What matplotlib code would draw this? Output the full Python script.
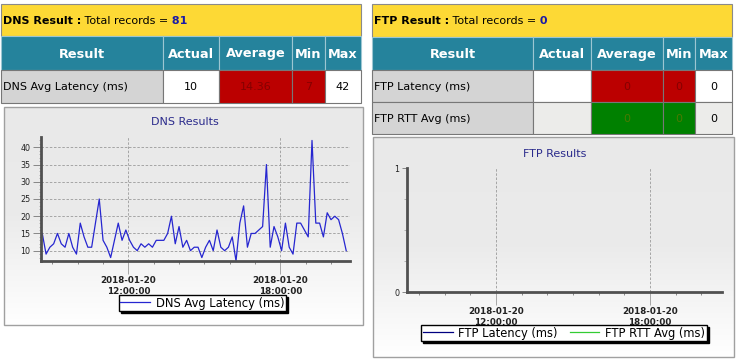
import numpy as np
import pandas as pd
import matplotlib
matplotlib.use('Agg')
import matplotlib.pyplot as plt
import matplotlib.dates as mdates
from matplotlib.patches import Rectangle
from matplotlib.colors import LinearSegmentedColormap

# ---------------------------------------------------------------
# Data
# ---------------------------------------------------------------
table_columns = ['Result', 'Actual', 'Average', 'Min', 'Max']

dns_total = 81
dns_rows = [['DNS Avg Latency (ms)', '10', '14.36', '7', '42']]

ftp_total = 0
ftp_rows = [['FTP Latency (ms)', '', '0', '0', '0'],
            ['FTP RTT Avg (ms)', '', '0', '0', '0']]

# DNS avg latency [ms], one sample every 9 minutes
dns_start = '2018-01-20 08:36'
dns_step = '9min'
dns_latency = [15, 9, 11, 12, 15, 12, 11, 15, 11, 9,
               18, 14, 11, 11, 18, 25, 13, 11, 8, 13,
               18, 13, 16, 13, 11, 10, 12, 11, 12, 11,
               13, 13, 13, 15, 20, 12, 17, 11, 13, 10,
               11, 11, 8, 11, 13, 10, 16, 11, 10, 11,
               14, 7, 18, 23, 11, 15, 15, 16, 17, 35,
               11, 17, 14, 10, 18, 11, 9, 18, 18, 16,
               14, 42, 18, 18, 14, 21, 19, 20, 19, 15, 10]

# FTP: no records
ftp_times = []
ftp_latency = []
ftp_rtt = []

dns_times = pd.date_range(dns_start, periods=len(dns_latency), freq=dns_step)

# ---------------------------------------------------------------
# Figure / pixel helpers
# ---------------------------------------------------------------
W, H = 739, 360
fig = plt.figure(figsize=(W / 100, H / 100), dpi=100)
fig.patch.set_facecolor('white')
bg = fig.add_axes([0, 0, 1, 1], zorder=0)
bg.axis('off')


def px_axes(l, t, r, b):
    return fig.add_axes([l / W, 1 - b / H, (r - l) / W, (b - t) / H], zorder=2)


YELLOW = '#fdd935'
TEAL = '#25839c'
GREY = '#d4d4d4'
LIGHT = '#ececea'
RED = '#bb0000'
GREEN = '#008000'
FILLS = {'label': (GREY, 'black'), 'plain': ('white', 'black'), 'light': (LIGHT, 'black'),
         'bad': (RED, '#850000'), 'good': (GREEN, '#4a7a00')}


def draw_table(x_edges, y_edges, name, total, rows, fills):
    x0, x1 = x_edges[0], x_edges[-1]
    # title bar
    bg.add_patch(Rectangle((x0, y_edges[0]), x1 - x0, y_edges[1] - y_edges[0],
                           fc=YELLOW, ec='#8a8a8a', lw=0.8))
    ym = (y_edges[0] + y_edges[1]) / 2 + 1
    t1 = bg.text(x0 + 2, ym, name + ' Result :', fontsize=8, fontweight='bold', va='center')
    t2 = bg.annotate(' Total records =', xy=(1, 0), xycoords=t1, fontsize=8, va='bottom')
    bg.annotate(' ' + str(total), xy=(1, 0), xycoords=t2, fontsize=8, va='bottom',
                fontweight='bold', color='#1a1aa6')
    # column header
    yc0, yc1 = y_edges[1], y_edges[2]
    for i, col in enumerate(table_columns):
        bg.add_patch(Rectangle((x_edges[i], yc0), x_edges[i + 1] - x_edges[i], yc1 - yc0,
                               fc=TEAL, ec='#9cc6d2', lw=0.8))
        bg.text((x_edges[i] + x_edges[i + 1]) / 2, (yc0 + yc1) / 2 + 1, col, color='white',
                fontsize=9.3, fontweight='bold', ha='center', va='center')
    # body
    for r, row in enumerate(rows):
        ya, yb = y_edges[2 + r], y_edges[3 + r]
        for i, val in enumerate(row):
            fc, tc = FILLS[fills[r][i]]
            bg.add_patch(Rectangle((x_edges[i], ya), x_edges[i + 1] - x_edges[i], yb - ya,
                                   fc=fc, ec='#777777', lw=0.8))
            if i == 0:
                bg.text(x_edges[i] + 2, (ya + yb) / 2 + 1, val, fontsize=8, va='center')
            else:
                bg.text((x_edges[i] + x_edges[i + 1]) / 2, (ya + yb) / 2 + 1, val, color=tc,
                        fontsize=8, ha='center', va='center')


draw_table([1, 163, 219, 292, 325, 361], [4, 36, 70, 103], 'DNS', dns_total, dns_rows,
           [['label', 'plain', 'bad', 'bad', 'plain']])
draw_table([372, 533, 591, 663, 695, 732], [4, 37, 70, 102, 134], 'FTP', ftp_total, ftp_rows,
           [['label', 'plain', 'bad', 'bad', 'plain'],
            ['label', 'light', 'good', 'good', 'light']])

# chart panels with light gradient
panel_cmap = LinearSegmentedColormap.from_list('panel', ['#e9e9e9', '#ebebeb', '#ffffff'])
grad = np.linspace(0, 1, 256).reshape(-1, 1)
for (l, t, r, b) in [(4, 107, 363, 325), (373, 137, 734, 357)]:
    bg.imshow(grad, extent=(l, r, b, t), cmap=panel_cmap, aspect='auto', zorder=0)
    bg.add_patch(Rectangle((l, t), r - l, b - t, fill=False, ec='#a0a0a0', lw=1))

bg.text(185, 122, 'DNS Results', fontsize=8, color='#2b2b8c', ha='center', va='center')
bg.text(555, 154, 'FTP Results', fontsize=8, color='#2b2b8c', ha='center', va='center')
bg.set_xlim(0, W)
bg.set_ylim(H, 0)


def style_chart(ax):
    ax.set_facecolor('none')
    for s in ['top', 'right']:
        ax.spines[s].set_visible(False)
    for s in ['left', 'bottom']:
        ax.spines[s].set_linewidth(2)
        ax.spines[s].set_color('#505050')
    ax.xaxis.set_major_locator(mdates.HourLocator(byhour=[12, 18]))
    ax.xaxis.set_minor_locator(mdates.HourLocator())
    ax.xaxis.set_major_formatter(mdates.DateFormatter('%Y-%m-%d\n%H:%M:%S'))
    ax.grid(axis='x', which='major', ls=(0, (3, 2)), color='#9a9a9a', lw=0.6)
    ax.tick_params(axis='x', which='major', length=9, width=0.6, color='#9a9a9a',
                   labelsize=6.3, pad=2, labelcolor='#222222')
    ax.tick_params(axis='x', which='minor', length=2.5, width=0.6, color='#777777')
    ax.tick_params(axis='y', which='major', labelsize=5.8, labelcolor='#222222',
                   color='#777777', width=0.6)
    ax.tick_params(axis='y', which='minor', color='#999999', width=0.5, length=1.5)
    plt.setp(ax.get_xticklabels(), fontweight='bold')


# ---------------------------------------------------------------
# DNS chart
# ---------------------------------------------------------------
ax_dns = px_axes(41, 137, 350, 261)
ax_dns.plot(dns_times, dns_latency, color='#2626d0', lw=0.9, label='DNS Avg Latency (ms)')
ax_dns.set_xlim(pd.Timestamp('2018-01-20 08:33'), pd.Timestamp('2018-01-20 20:45'))
ax_dns.set_ylim(7, 43)
ax_dns.set_yticks(range(10, 45, 5))
ax_dns.set_yticks(range(8, 43), minor=True)
ax_dns.grid(axis='y', which='major', ls=(0, (3, 2)), color='#9a9a9a', lw=0.6)
style_chart(ax_dns)
ax_dns.tick_params(axis='y', which='major', length=5.8, pad=2)

leg = ax_dns.legend(loc='center', bbox_to_anchor=(202.5 / W, 1 - 303 / H),
                    bbox_transform=fig.transFigure, fancybox=False, edgecolor='black',
                    framealpha=1, shadow={'color': 'black', 'alpha': 1, 'ox': 1.5, 'oy': -1.5},
                    fontsize=8.3, borderpad=0.15, handlelength=2.6, handletextpad=0.5,
                    borderaxespad=0)
leg.get_frame().set_linewidth(1)

# ---------------------------------------------------------------
# FTP chart
# ---------------------------------------------------------------
ax_ftp = px_axes(407, 168, 722, 292)
ax_ftp.plot(ftp_times, ftp_latency, color='#000080', lw=0.9, label='FTP Latency (ms)')
ax_ftp.plot(ftp_times, ftp_rtt, color='#33cc33', lw=0.9, label='FTP RTT Avg (ms)')
ax_ftp.set_xlim(pd.Timestamp('2018-01-20 08:32'), pd.Timestamp('2018-01-20 20:48'))
ax_ftp.set_ylim(0, 1)
ax_ftp.set_yticks([0, 1])
ax_ftp.set_yticks([0.25, 0.5, 0.75], minor=True)
style_chart(ax_ftp)
ax_ftp.tick_params(axis='y', which='major', length=3.5, pad=2)
ax_ftp.tick_params(axis='y', which='minor', length=2)

leg2 = ax_ftp.legend(loc='center', bbox_to_anchor=(564 / W, 1 - 333 / H),
                     bbox_transform=fig.transFigure, fancybox=False, edgecolor='black',
                     framealpha=1, shadow={'color': 'black', 'alpha': 1, 'ox': 1.5, 'oy': -1.5},
                     fontsize=8.3, ncol=2, borderpad=0.15, handlelength=2.6,
                     handletextpad=0.5, columnspacing=1.0, borderaxespad=0)
leg2.get_frame().set_linewidth(1)

fig.savefig('out.png', dpi=100)
